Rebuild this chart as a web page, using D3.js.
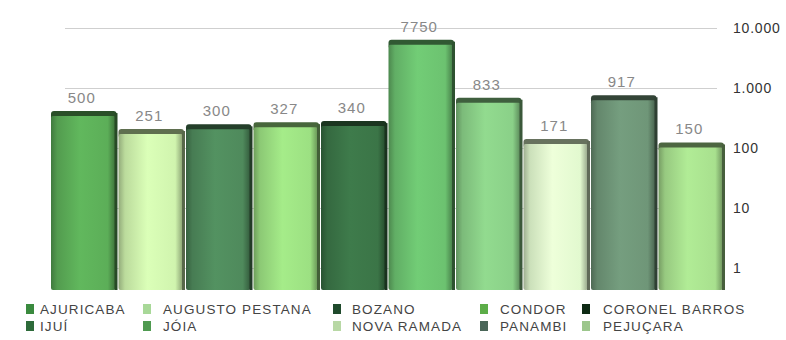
<!DOCTYPE html>
<html>
<head>
<meta charset="utf-8">
<script src="https://cdn.jsdelivr.net/npm/d3@7"></script>
<style>
  html, body { margin: 0; padding: 0; background: #fff; }
  svg { display: block; font-family: "Liberation Sans", Arial, sans-serif; }
</style>
</head>
<body>
<svg id="chart" width="786" height="340"></svg>
<script>
// Municipalities and their values (log scale)
const categories = ["AJURICABA", "AUGUSTO PESTANA", "BOZANO", "CONDOR", "CORONEL BARROS",
                    "IJUÍ", "JÓIA", "NOVA RAMADA", "PANAMBI", "PEJUÇARA"];
const values = [500, 251, 300, 327, 340, 7750, 833, 171, 917, 150];
const tickValues = [1, 10, 100, 1000, 10000];
// Bar face colours and legend swatch colours
const barColors = ["#5cae58", "#d0f4ae", "#4f8a5c", "#9ce082", "#3b7547",
                   "#6cc270", "#8ad088", "#e2f9cf", "#6f9678", "#a8e08e"];
const legendColors = ["#3a8a3e", "#a8d898", "#1f4a2c", "#5cad48", "#0e2a14",
                      "#2e6b3a", "#4f9a50", "#b8d8a5", "#4a6658", "#9cc68c"];

const svg = d3.select("#chart");
const defs = svg.append("defs");

const x = d3.scaleBand().domain(categories).range([50, 725]).padding(0);
const y = d3.scaleLog().domain([1, 10000]).range([268, 28]);
const baseY = 290;
const capH = 5, capShift = 5;

const loc = d3.formatLocale({ thousands: ".", decimal: ",", grouping: [3], currency: ["", ""] });
const fmt = loc.format(",");

// Gridlines + right axis labels
const gridLeft = 65, gridRight = 717;
const axis = d3.axisRight(y)
  .tickValues(tickValues)
  .tickFormat(fmt)
  .tickSize(-(gridRight - gridLeft))
  .tickPadding(16);
const gAxis = svg.append("g").attr("transform", `translate(${gridRight},0)`).call(axis);
gAxis.select(".domain").remove();
gAxis.selectAll(".tick line").attr("stroke", "#cfcfcf").attr("stroke-width", 1.2);
gAxis.selectAll(".tick text")
  .attr("fill", "#333")
  .style("font-size", "14px")
  .style("letter-spacing", "0.8px");

// Horizontal shading gradients to give the bars a rounded look
barColors.forEach((c, i) => {
  const base = d3.color(c);
  const g = defs.append("linearGradient").attr("id", "bar" + i)
    .attr("x1", "0%").attr("x2", "100%").attr("y1", "0%").attr("y2", "0%");
  g.append("stop").attr("offset", "0%").attr("stop-color", base.darker(1.0));
  g.append("stop").attr("offset", "10%").attr("stop-color", base.darker(0.3));
  g.append("stop").attr("offset", "45%").attr("stop-color", base.brighter(0.15));
  g.append("stop").attr("offset", "88%").attr("stop-color", base);
  g.append("stop").attr("offset", "100%").attr("stop-color", base.darker(1.2));
});

const data = categories.map((c, i) => ({ name: c, value: values[i], i }));
const bw = x.bandwidth();

const bars = svg.append("g").selectAll("g").data(data).join("g");

// dark top cap
bars.append("rect")
  .attr("x", d => x(d.name) + 1)
  .attr("y", d => y(d.value) + capShift)
  .attr("width", bw - 2)
  .attr("height", capH + 4)
  .attr("rx", 3)
  .attr("fill", d => d3.color(barColors[d.i]).darker(2.2));

// front face
bars.append("rect")
  .attr("x", d => x(d.name) + 1)
  .attr("y", d => y(d.value) + capShift + capH)
  .attr("width", bw - 3)
  .attr("height", d => baseY - (y(d.value) + capShift + capH))
  .attr("rx", 2)
  .attr("fill", d => `url(#bar${d.i})`);

// right edge shadow
bars.append("rect")
  .attr("x", d => x(d.name) + bw - 3)
  .attr("y", d => y(d.value) + capShift + 2)
  .attr("width", 3)
  .attr("height", d => baseY - (y(d.value) + capShift + 2))
  .attr("fill", d => d3.color(barColors[d.i]).darker(2.4));

// value labels
svg.append("g").selectAll("text").data(data).join("text")
  .attr("x", d => x(d.name) + bw / 2 - 2)
  .attr("y", d => y(d.value) - 3)
  .attr("text-anchor", "middle")
  .attr("fill", "#888")
  .attr("stroke", "#fff")
  .attr("stroke-width", 0.6)
  .attr("paint-order", "stroke")
  .style("font-size", "15px")
  .style("letter-spacing", "1px")
  .text(d => d.value);

// legend: two rows of five
const colX = [26, 143, 333, 480, 582];
const textOff = [14, 20, 19, 20, 21];
const rowY = [309, 326];
const leg = svg.append("g").selectAll("g").data(data).join("g")
  .attr("transform", d => `translate(${colX[d.i % 5]},${rowY[Math.floor(d.i / 5)]})`);
leg.append("rect")
  .attr("x", 0).attr("y", -5)
  .attr("width", 8).attr("height", 10)
  .attr("fill", d => legendColors[d.i]);
leg.append("text")
  .attr("x", d => textOff[d.i % 5])
  .attr("y", 0)
  .attr("dy", "0.35em")
  .attr("fill", "#444")
  .style("font-size", "13.5px")
  .style("letter-spacing", "1.1px")
  .text(d => d.name);
</script>
</body>
</html>
